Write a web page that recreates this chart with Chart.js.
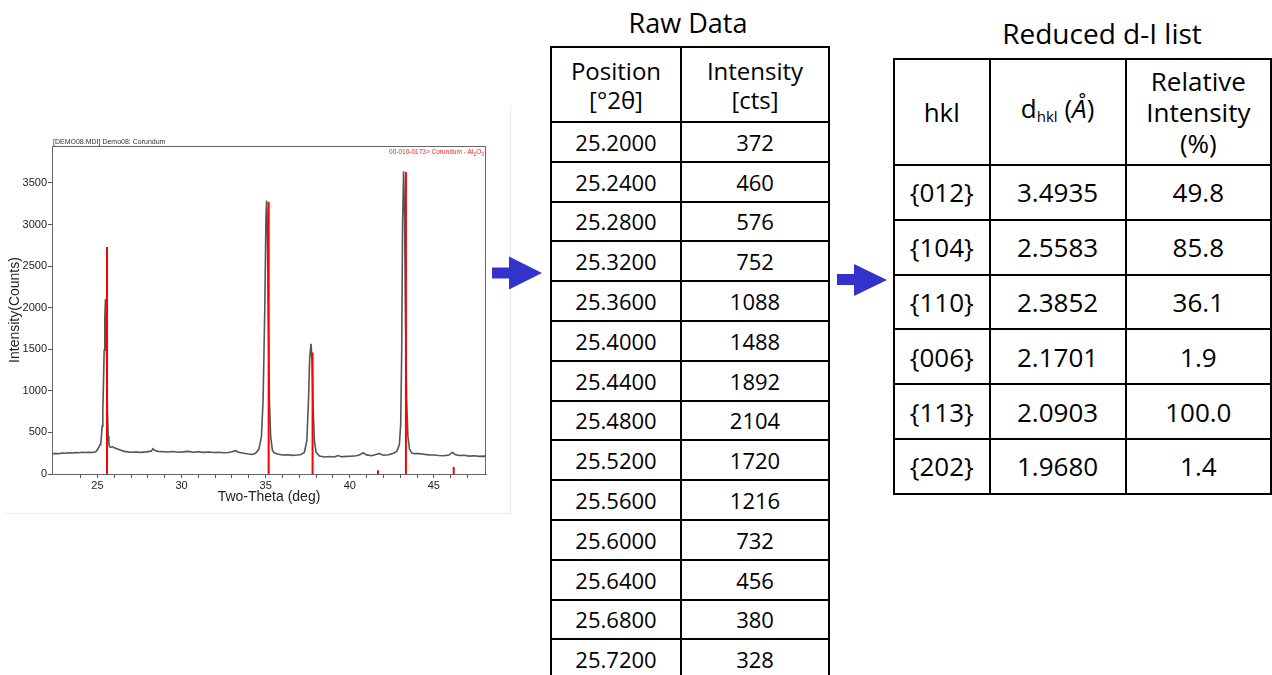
<!DOCTYPE html>
<html>
<head>
<meta charset="utf-8">
<script src="https://cdn.jsdelivr.net/npm/chart.js@4.4.1/dist/chart.umd.min.js"></script>
<style>
  html, body { margin: 0; padding: 0; background: #fff; }
  body { width: 1272px; height: 675px; position: relative; overflow: hidden; font-family: "Comic Sans MS", "Open Sans", sans-serif; color: #000; }
  #plotBox { position: absolute; left: 0; top: 100px; width: 512px; height: 420px; }
  #plotFrame { position: absolute; left: 5px; top: 106px; width: 505px; height: 407px; border-right: 1px solid #ececec; border-bottom: 1px solid #ececec; }
  .caption { position: absolute; font-size: 27px; white-space: nowrap; transform: translateX(-50%); }
  table { position: absolute; border-collapse: collapse; table-layout: fixed; }
  td, th { border: 2px solid #000; text-align: center; padding: 0; font-weight: normal; }
  #raw { left: 550px; top: 46px; font-size: 22px; }
  #raw th { height: 73px; font-size: 24px; line-height: 29px; }
  #raw td { height: 37.8px; }
  #reduced { left: 893px; top: 58px; font-size: 26px; }
  #reduced th { height: 104px; font-size: 26px; line-height: 31px; }
  #reduced td { height: 52.8px; }
  sub { font-size: 15px; vertical-align: -4px; }
  .arrow { position: absolute; }
</style>
</head>
<body>
<div id="plotFrame"></div>
<div id="plotBox"><canvas id="xrd" width="512" height="420"></canvas></div>

<svg class="arrow" style="left:490px;top:254px" width="56" height="38">
  <polygon points="2,13.5 19,13.5 19,2.5 52,19 19,35.5 19,24.5 2,24.5" fill="#3333cc"/>
</svg>
<svg class="arrow" style="left:835px;top:262px" width="56" height="38">
  <polygon points="2,12 19,12 19,2 52,18 19,34 19,23 2,23" fill="#3333cc"/>
</svg>

<div class="caption" style="left:688px;top:4px">Raw Data</div>
<div class="caption" style="left:1102px;top:14px;font-size:28px">Reduced d-I list</div>

<table id="raw">
  <colgroup><col style="width:130px"><col style="width:148px"></colgroup>
  <thead><tr><th>Position<br>[°2θ]</th><th>Intensity<br>[cts]</th></tr></thead>
  <tbody id="rawBody"></tbody>
</table>

<table id="reduced">
  <colgroup><col style="width:96px"><col style="width:137px"><col style="width:146px"></colgroup>
  <thead><tr><th>hkl</th><th>d<sub>hkl</sub> (<i>Å</i>)</th><th>Relative<br>Intensity<br>(%)</th></tr></thead>
  <tbody id="redBody"></tbody>
</table>

<script>
// --- table data ---
const rawPositions = ['25.2000', '25.2400', '25.2800', '25.3200', '25.3600', '25.4000', '25.4400',
  '25.4800', '25.5200', '25.5600', '25.6000', '25.6400', '25.6800', '25.7200'];
const rawCounts = [372, 460, 576, 752, 1088, 1488, 1892, 2104, 1720, 1216, 732, 456, 380, 328];

const hklLabels = ['{012}', '{104}', '{110}', '{006}', '{113}', '{202}'];
const dSpacings = ['3.4935', '2.5583', '2.3852', '2.1701', '2.0903', '1.9680'];
const relIntensity = ['49.8', '85.8', '36.1', '1.9', '100.0', '1.4'];

// --- measured pattern (2theta, counts) ---
const scanTheta = [22.3, 22.5, 22.7, 22.9, 23.1, 23.3, 23.5, 23.7, 23.9, 24.1, 24.3, 24.5, 24.7, 24.9,
  25.0, 25.1, 25.16, 25.2, 25.24, 25.28, 25.32, 25.36, 25.4, 25.44, 25.48, 25.52, 25.56, 25.6,
  25.64, 25.68, 25.72, 25.8, 25.9, 26.0, 26.2, 26.4, 26.6, 26.8, 27.0, 27.3, 27.6, 27.9, 28.2,
  28.3, 28.4, 28.6, 28.9, 29.2, 29.5, 29.8, 30.1, 30.4, 30.7, 31.0, 31.3, 31.6, 31.9, 32.2, 32.5,
  32.8, 33.0, 33.2, 33.4, 33.7, 34.0, 34.2, 34.4, 34.6, 34.75, 34.85, 34.95, 35.02, 35.06, 35.1,
  35.15, 35.22, 35.3, 35.4, 35.5, 35.7, 36.0, 36.3, 36.6, 36.9, 37.1, 37.3, 37.45, 37.55, 37.62,
  37.7, 37.76, 37.82, 37.9, 38.0, 38.2, 38.5, 38.8, 39.1, 39.3, 39.5, 39.8, 40.1, 40.4, 40.6,
  40.8, 41.0, 41.3, 41.6, 41.75, 42.0, 42.3, 42.6, 42.8, 42.95, 43.03, 43.09, 43.14, 43.2, 43.26,
  43.32, 43.38, 43.46, 43.55, 43.7, 43.9, 44.1, 44.4, 44.7, 45.0, 45.3, 45.6, 45.9, 46.1, 46.25,
  46.5, 46.8, 47.1, 47.4, 47.7, 48.0, 48.1];
const scanCounts = [240, 248, 244, 252, 250, 256, 252, 258, 255, 262, 258, 262, 258, 268,
  290, 330, 355, 372, 460, 576, 752, 1088, 1488, 1892, 2104, 1720, 1216, 732,
  456, 380, 328, 320, 330, 315, 300, 285, 272, 266, 262, 265, 260, 266, 275,
  305, 285, 272, 268, 264, 270, 262, 266, 272, 262, 268, 260, 264, 258, 262, 255,
  258, 268, 280, 262, 250, 240, 235, 250, 300, 450, 900, 2000, 3100, 3290, 3000,
  2000, 900, 450, 290, 255, 240, 228, 232, 224, 228, 235, 260, 400, 900, 1400,
  1565, 1350, 800, 400, 260, 215, 205, 210, 205, 222, 208, 212, 215, 220, 230,
  255, 230, 220, 238, 245, 225, 232, 250, 275, 350, 600, 1500, 3000, 3640, 3100,
  1800, 900, 450, 300, 250, 245, 245, 238, 230, 228, 222, 220, 228, 262, 235,
  222, 225, 215, 220, 212, 215, 212];

// --- reference pattern 00-010-0173 (stick positions and heights) ---
const refTheta = [25.57, 35.18, 37.79, 41.68, 43.34, 46.18];
const refCounts = [2730, 3272, 1460, 45, 3632, 85];

// --- axis ---
const xMin = 22.3, xMax = 48.1;
const yMin = 0, yMax = 3945;
const xLabelEvery = 5;
const yTickValues = [0, 500, 1000, 1500, 2000, 2500, 3000, 3500];

// fill the tables
document.getElementById('rawBody').innerHTML = rawPositions
  .map((p, i) => `<tr><td>${p}</td><td>${rawCounts[i]}</td></tr>`).join('');
document.getElementById('redBody').innerHTML = hklLabels
  .map((h, i) => `<tr><td>${h}</td><td>${dSpacings[i]}</td><td>${relIntensity[i]}</td></tr>`).join('');

// profile points and stick segments (null breaks the line between sticks)
const scanPoints = scanTheta.map((t, i) => ({ x: t, y: scanCounts[i] }));
const stickPoints = [];
refTheta.forEach((t, i) => {
  stickPoints.push({ x: t, y: 0 }, { x: t, y: refCounts[i] }, { x: t, y: null });
});

const axisFont = { family: '"Liberation Sans", Arial, sans-serif', size: 11 };

const frameAndNotes = {
  id: 'frameAndNotes',
  afterDraw(chart) {
    const { ctx, chartArea: a } = chart;
    ctx.save();
    ctx.strokeStyle = '#666';
    ctx.lineWidth = 1;
    ctx.strokeRect(a.left + 0.5, a.top + 0.5, a.right - a.left - 1, a.bottom - a.top);

    ctx.fillStyle = '#333';
    ctx.font = '7px "Liberation Sans", Arial, sans-serif';
    ctx.textBaseline = 'alphabetic';
    ctx.textAlign = 'left';
    ctx.fillText('[DEMO08.MDI] Demo08: Corundum', a.left + 1, a.top - 2);

    // red phase label with subscripts, right aligned
    const parts = [['00-010-0173> Corundum - Al', 0], ['2', 1], ['O', 0], ['3', 1]];
    const bigFont = '6.5px "Liberation Sans", Arial, sans-serif';
    const smallFont = '5px "Liberation Sans", Arial, sans-serif';
    let w = 0;
    parts.forEach(([s, sub]) => { ctx.font = sub ? smallFont : bigFont; w += ctx.measureText(s).width; });
    let x = a.right - 2 - w;
    const y = a.top + 8;
    ctx.fillStyle = '#ff2020';
    parts.forEach(([s, sub]) => {
      ctx.font = sub ? smallFont : bigFont;
      ctx.fillText(s, x, sub ? y + 1.5 : y);
      x += ctx.measureText(s).width;
    });
    ctx.restore();
  }
};

new Chart(document.getElementById('xrd'), {
  type: 'scatter',
  data: {
    datasets: [
      {
        label: 'Corundum reference',
        data: stickPoints,
        showLine: true,
        spanGaps: false,
        borderColor: '#ff0000',
        borderWidth: 2,
        pointRadius: 0,
        order: 0
      },
      {
        label: 'Measured',
        data: scanPoints,
        showLine: true,
        borderColor: '#555555',
        borderWidth: 1.6,
        pointRadius: 0,
        tension: 0,
        order: 1
      }
    ]
  },
  options: {
    responsive: false,
    animation: false,
    layout: { padding: { top: 46, right: 26, left: 0, bottom: 14 } },
    plugins: { legend: { display: false }, tooltip: { enabled: false } },
    scales: {
      x: {
        type: 'linear',
        min: xMin,
        max: xMax,
        afterBuildTicks: s => { s.ticks = s.ticks.filter(t => Math.abs(t.value - Math.round(t.value)) < 1e-6); },
        afterFit: s => { s.height = 32; },
        ticks: {
          stepSize: 1,
          autoSkip: false,
          maxRotation: 0,
          padding: 1,
          color: '#222',
          font: axisFont,
          callback: v => (Math.round(v) % xLabelEvery === 0 ? String(Math.round(v)) : '')
        },
        grid: { drawOnChartArea: false, tickLength: 4, color: '#555' },
        border: { color: '#666' },
        title: {
          display: true,
          text: 'Two-Theta (deg)',
          color: '#222',
          padding: { top: 0, bottom: 0 },
          font: { family: '"Liberation Sans", Arial, sans-serif', size: 14 }
        }
      },
      y: {
        min: yMin,
        max: yMax,
        afterBuildTicks: s => { s.ticks = yTickValues.map(v => ({ value: v })); },
        afterFit: s => { s.width = 52; },
        ticks: {
          autoSkip: false,
          padding: 1,
          color: '#222',
          font: axisFont,
          callback: v => String(v)
        },
        grid: { drawOnChartArea: false, tickLength: 4, color: '#555' },
        border: { color: '#666' },
        title: {
          display: true,
          text: 'Intensity(Counts)',
          color: '#222',
          padding: { top: 7, bottom: 0 },
          font: { family: '"Liberation Sans", Arial, sans-serif', size: 14 }
        }
      }
    }
  },
  plugins: [frameAndNotes]
});
</script>
</body>
</html>
